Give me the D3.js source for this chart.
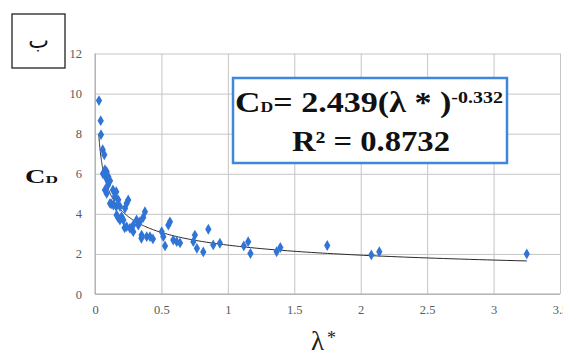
<!DOCTYPE html>
<html>
<head>
<meta charset="utf-8">
<script src="https://cdn.jsdelivr.net/npm/d3@7"></script>
<style>
  body { margin: 0; background: #fff; }
  svg { display: block; }
  .serif { font-family: "Liberation Serif", "Tinos", "Times New Roman", "DejaVu Serif", serif; }
</style>
</head>
<body>
<svg id="chart" width="563" height="351"></svg>
<script>
const lambdaVals = [0.03, 0.043, 0.045, 0.058, 0.07, 0.075, 0.06, 0.088, 0.085, 0.1,
  0.113, 0.098, 0.075, 0.088, 0.135, 0.16, 0.15, 0.175, 0.113, 0.123,
  0.138, 0.16, 0.188, 0.25, 0.238, 0.226, 0.163, 0.175, 0.2, 0.188,
  0.213, 0.223, 0.238, 0.263, 0.288, 0.313, 0.326, 0.338, 0.376, 0.363,
  0.288, 0.351, 0.349, 0.389, 0.414, 0.436, 0.502, 0.514, 0.527, 0.552,
  0.564, 0.589, 0.615, 0.64, 0.752, 0.74, 0.767, 0.815, 0.853, 0.89,
  0.94, 1.12, 1.153, 1.17, 1.367, 1.395, 1.748, 2.08, 2.14, 3.25];
const cdVals = [9.65, 8.65, 7.95, 7.2, 6.95, 6.2, 6.0, 6.1, 5.77, 5.85,
  5.65, 5.44, 5.19, 5.02, 5.19, 5.1, 4.86, 4.7, 4.52, 4.5,
  4.44, 4.36, 4.36, 4.69, 4.52, 4.28, 3.94, 3.8, 3.86, 3.69,
  3.69, 3.3, 3.36, 3.28, 3.44, 3.69, 3.44, 3.61, 4.11, 3.82,
  3.11, 2.94, 2.78, 2.86, 2.86, 2.75, 3.11, 2.86, 2.4, 3.44,
  3.6, 2.69, 2.61, 2.55, 2.94, 2.61, 2.28, 2.1, 3.23, 2.45,
  2.53, 2.4, 2.61, 2.02, 2.11, 2.32, 2.42, 1.95, 2.11, 2.0];

const xTicks = [0, 0.5, 1, 1.5, 2, 2.5, 3, 3.5];
const yTicks = [0, 2, 4, 6, 8, 10, 12];

// power-law fit shown in the box
const fitA = 2.439;
const fitB = -0.332;
const fitRange = [0.028, 3.25];

const svg = d3.select("#chart");

const x = d3.scaleLinear().domain([0, 3.5]).range([95, 560]);
const y = d3.scaleLinear().domain([0, 12]).range([294, 53.5]);

// gridlines + tick labels
const gx = svg.append("g")
  .attr("transform", `translate(0,${y(0)})`)
  .call(d3.axisBottom(x).tickValues(xTicks).tickSize(-(y(0) - y(12))).tickPadding(11)
    .tickFormat(d3.format("")));
const gy = svg.append("g")
  .attr("transform", `translate(${x(0)},0)`)
  .call(d3.axisLeft(y).tickValues(yTicks).tickSize(-(x(3.5) - x(0))).tickPadding(13));

[gx, gy].forEach(g => {
  g.attr("font-family", null).attr("class", "serif");
  g.select(".domain").remove();
  g.selectAll("line").attr("stroke", "#c4c4c4").attr("stroke-width", 1);
  g.selectAll("text")
    .attr("font-size", 12.5)
    .attr("fill", "#5a5a5a");
});

// axis lines
svg.append("line")
  .attr("x1", x(0)).attr("x2", x(0)).attr("y1", y(12)).attr("y2", y(0))
  .attr("stroke", "#a8a8a8");
svg.append("line")
  .attr("x1", x(0)).attr("x2", x(3.5)).attr("y1", y(0)).attr("y2", y(0))
  .attr("stroke", "#a8a8a8");

// trend line
const fitPts = d3.range(0, 201).map(i => {
  const t = fitRange[0] * Math.pow(fitRange[1] / fitRange[0], i / 200);
  return [t, fitA * Math.pow(t, fitB)];
});
svg.append("path")
  .datum(fitPts)
  .attr("fill", "none")
  .attr("stroke", "#2b2b2b")
  .attr("stroke-width", 1)
  .attr("d", d3.line().x(d => x(d[0])).y(d => y(d[1])));

// points
const symbol = d3.symbol().type(d3.symbolDiamond).size(34);
svg.append("g")
  .selectAll("path")
  .data(lambdaVals.map((v, i) => [v, cdVals[i]]))
  .join("path")
  .attr("transform", d => `translate(${x(d[0])},${y(d[1])})`)
  .attr("d", symbol)
  .attr("fill", "#2f74d6");

// equation box
svg.append("rect")
  .attr("x", 233).attr("y", 78).attr("width", 274).attr("height", 85)
  .attr("fill", "#fff")
  .attr("stroke", "#3d87dc")
  .attr("stroke-width", 2.5);

const line1 = svg.append("text")
  .attr("class", "serif")
  .attr("font-weight", "bold")
  .attr("fill", "#111")
  .attr("x", 235).attr("y", 112)
  .attr("textLength", 268).attr("lengthAdjust", "spacingAndGlyphs");
line1.append("tspan").attr("font-size", 30).text("C");
line1.append("tspan").attr("font-size", 15).text("D");
line1.append("tspan").attr("font-size", 29).text("= 2.439(λ * )");
line1.append("tspan").attr("font-size", 17).attr("dy", -9).text("-0.332");

svg.append("text")
  .attr("class", "serif")
  .attr("font-weight", "bold")
  .attr("fill", "#111")
  .attr("x", 292).attr("y", 151)
  .attr("font-size", 29)
  .attr("textLength", 158).attr("lengthAdjust", "spacingAndGlyphs")
  .text("R² = 0.8732");

// y axis title
const yt = svg.append("text")
  .attr("class", "serif")
  .attr("font-weight", "bold")
  .attr("fill", "#111")
  .attr("x", 25).attr("y", 183)
  .attr("textLength", 33).attr("lengthAdjust", "spacingAndGlyphs");
yt.append("tspan").attr("font-size", 18).text("C");
yt.append("tspan").attr("font-size", 11).text("D");

// x axis title
svg.append("text")
  .attr("class", "serif")
  .attr("x", 311).attr("y", 350)
  .attr("font-size", 27)
  .attr("fill", "#222")
  .text("λ")
  .append("tspan")
  .attr("font-size", 18)
  .attr("dx", 3)
  .attr("dy", -6)
  .text("*");

// panel label
svg.append("rect")
  .attr("x", 12).attr("y", 14).attr("width", 53).attr("height", 54)
  .attr("fill", "#fff")
  .attr("stroke", "#222")
  .attr("stroke-width", 1.3);
svg.append("text")
  .attr("x", 38.5).attr("y", 48)
  .attr("text-anchor", "middle")
  .attr("font-family", "'DejaVu Sans', sans-serif")
  .attr("font-size", 22)
  .attr("fill", "#111")
  .text("ب");
</script>
</body>
</html>
